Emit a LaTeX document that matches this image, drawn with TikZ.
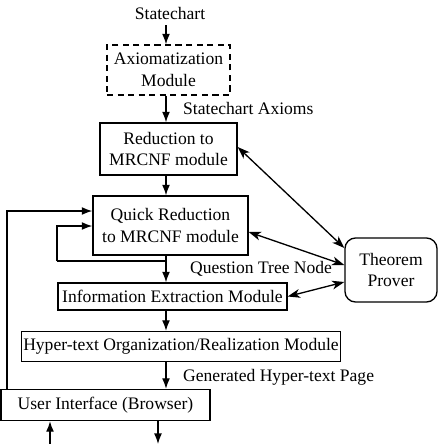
\documentclass[tikz,border=0pt]{standalone}
\usepackage{fontspec}
\setmainfont{Liberation Serif}
\usepackage{tikz}
\usetikzlibrary{positioning, arrows.meta}

\tikzset{
    tip/.tip={Latex[length=6pt, width=4.5pt]},
    biptip/.tip={Stealth[length=7pt, width=5pt, inset=2pt]}
}

\begin{document}
\begin{tikzpicture}[
    x=0.02cm, y=-0.02cm,
    every node/.style={font=\fontsize{10}{12.5}\selectfont},
    module/.style={rectangle, draw, line width=0.75pt, align=center, inner sep=1pt},
    arrow/.style={-tip, line width=0.75pt},
    link/.style={biptip-biptip, line width=0.75pt},
    plain/.style={line width=0.75pt}
]
    \useasboundingbox (0,0) rectangle (438,444);

    % Input
    \node (chart) at (170, 13) {Statechart};
    \coordinate (spine) at (166, 0);

    % Modules
    \node[module, dash pattern=on 3.5pt off 2.5pt, minimum width=123*0.02cm, minimum height=50*0.02cm] (axiom) at (168.5, 70) {Axiomatization\\Module};
    \node[module, minimum width=137*0.02cm, minimum height=52*0.02cm] (reduce) at (168.5, 149) {Reduction to\\MRCNF module};
    \node[module, minimum width=155*0.02cm, minimum height=59*0.02cm] (quick) at (170.5, 225.5) {Quick Reduction\\to MRCNF module};
    \node[module, minimum width=229*0.02cm, minimum height=27*0.02cm] (info) at (172.5, 296.5) {Information Extraction Module};
    \node[module, minimum width=318*0.02cm, minimum height=30*0.02cm] (hyper) at (181, 346.5) {Hyper-text Organization/Realization Module};
    \node[module, minimum width=209*0.02cm, minimum height=31*0.02cm] (ui) at (105.5, 405) {User Interface (Browser)};

    % Prover
    \node[module, rounded corners=6pt, minimum width=92*0.02cm, minimum height=64*0.02cm] (prover) at (391, 270) {Theorem\\Prover};

    % Main path
    \draw[arrow] (chart.south -| spine) -- (axiom.north -| spine);
    \draw[arrow] (axiom.south -| spine) -- (reduce.north -| spine);
    \draw[arrow] (reduce.south -| spine) -- (quick.north -| spine);
    \draw[arrow] (quick.south -| spine) -- (info.north -| spine);
    \draw[arrow] (info.south -| spine) -- (hyper.north -| spine);
    \draw[arrow] (hyper.south -| spine) -- (ui.north -| spine);

    % Labels
    \node[anchor=west] (axlabel) at (177, 108) {Statechart Axioms};
    \node[anchor=west] (qtn) at (184, 269) {Question Tree Node};
    \node[anchor=west] (page) at (177, 377) {Generated Hyper-text Page};

    % Loop back
    \coordinate (loopa) at (57, 261);
    \coordinate (loopb) at (57, 226);
    \draw[plain] (quick.south -| spine) -- (loopa -| spine) -- (loopa);
    \draw[arrow] (loopa) -- (loopb) -- (loopb -| quick.west);

    % Feedback from browser
    \coordinate (back) at (7, 211);
    \draw[arrow] (ui.north -| back) -- (back) -- (back -| quick.west);

    % Browser in/out
    \coordinate (uiin) at (50, 444);
    \coordinate (uiout) at (158, 444);
    \draw[arrow] (uiin) -- (ui.south -| uiin);
    \draw[arrow] (ui.south -| uiout) -- (uiout);

    % Prover links
    \draw[link] ([yshift=0.04cm]reduce.east) -- ([yshift=0.44cm]prover.west);
    \draw[link] ([yshift=-0.13cm]quick.east) -- ([yshift=0.1cm]prover.west);
    \draw[link] (info.east) -- ([yshift=-0.24cm]prover.west);
\end{tikzpicture}
\end{document}
